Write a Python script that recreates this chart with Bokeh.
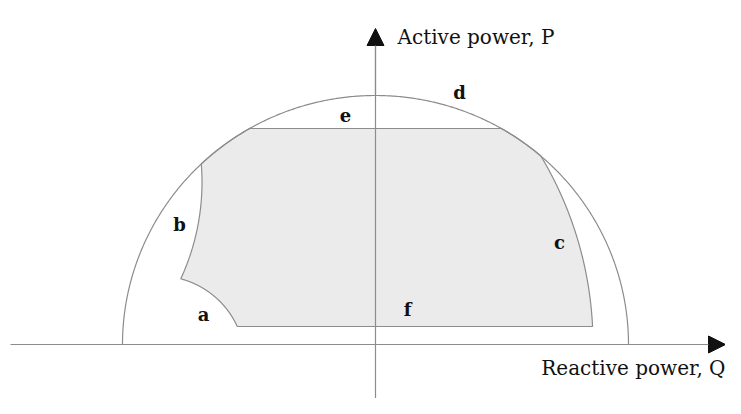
import numpy as np
from bokeh.plotting import figure
from bokeh.models import Range1d, Arrow, NormalHead
from bokeh.core.properties import value
from bokeh.embed import file_html
from bokeh.resources import INLINE

# ---- capability-diagram parameters (diagram units, origin at axis crossing) ----
armature_rq = 253.0      # armature current limit (d), half-width along Q
armature_rp = 249.0      # armature current limit (d), height along P
p_max = 216.0            # turbine max power limit (e)
p_min = 18.0             # min power limit (f)
field_center = (-149.3, 0.0)   # field current limit (c)
field_radius = 366.8
under_center = (-403.2, 162.2)  # underexcitation / end-region limit (b)
under_radius = 229.7
stab_center = (-217.0, -18.0)   # stability limit (a)
stab_radius = 86.6

label_text = ["a", "b", "c", "d", "e", "f"]
label_q = [-172, -196, 184, 84, -30, 32]
label_p = [30, 120, 102, 252, 230, 35]

axis_q_label = "Reactive power, Q"
axis_p_label = "Active power, P"

line_col = "#8c8c8c"

# ---- geometry ----
def ell_x(y):
    return armature_rq * np.sqrt(np.clip(1 - (y / armature_rp) ** 2, 0, None))

ys = np.linspace(p_min, p_max, 600)
xr = np.minimum(ell_x(ys), field_center[0] + np.sqrt(field_radius ** 2 - (ys - field_center[1]) ** 2))
da = stab_radius ** 2 - (ys - stab_center[1]) ** 2
xa = np.where(da >= 0, stab_center[0] + np.sqrt(np.clip(da, 0, None)), -np.inf)
xb = under_center[0] + np.sqrt(under_radius ** 2 - (ys - under_center[1]) ** 2)
xl = np.maximum(np.maximum(xa, xb), -ell_x(ys))

poly_x = np.concatenate([xr, xl[::-1]])
poly_y = np.concatenate([ys, ys[::-1]])

th = np.linspace(0, np.pi, 400)
circ_x = armature_rq * np.cos(th)
circ_y = armature_rp * np.sin(th)

p = figure(width=725, height=398, output_backend="svg", toolbar_location=None,
           x_range=Range1d(-375, 350), y_range=Range1d(-54, 344),
           min_border=0, outline_line_color=None)
p.axis.visible = False
p.grid.visible = False
p.background_fill_color = "white"

p.patch(poly_x, poly_y, fill_color="#ebebeb", line_color=line_col, line_width=1.2)
p.line(circ_x, circ_y, line_color=line_col, line_width=1.2)

# axes
p.line([-365, 335], [0, 0], line_color=line_col, line_width=1.2)
p.line([0, 0], [-54, 300], line_color=line_col, line_width=1.2)
p.add_layout(Arrow(end=NormalHead(size=17, fill_color="#111111", line_color="#111111"),
                   x_start=300, y_start=0, x_end=350, y_end=0,
                   line_color=line_col, line_width=1.2))
p.add_layout(Arrow(end=NormalHead(size=17, fill_color="#111111", line_color="#111111"),
                   x_start=0, y_start=250, x_end=0, y_end=316,
                   line_color=line_col, line_width=1.2))

p.text(x=label_q, y=label_p, text=label_text, text_font=value("DejaVu Serif"),
       text_font_style="bold", text_font_size="18px", text_align="center",
       text_baseline="alphabetic", text_color="#111111")

p.text(x=[22], y=[308], text=[axis_p_label], text_font=value("DejaVu Serif"),
       text_font_size="20px", text_align="left", text_baseline="alphabetic", text_color="#111111")
p.text(x=[350], y=[-23], text=[axis_q_label], text_font=value("DejaVu Serif"),
       text_font_size="20px", text_align="right", text_baseline="alphabetic", text_color="#111111")

open("out.html", "w").write(file_html(p, INLINE))
